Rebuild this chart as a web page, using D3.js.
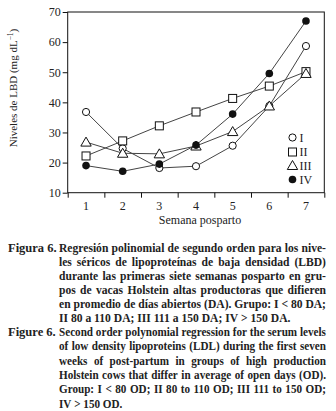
<!DOCTYPE html>
<html>
<head>
<meta charset="utf-8">
<script src="https://cdn.jsdelivr.net/npm/d3@7"></script>
<style>
  body { margin: 0; background: #fff; }
  svg { display: block; }
  text { font-family: "Liberation Serif", "DejaVu Serif", serif; fill: #222; }
</style>
</head>
<body>
<script>
// Weeks post-partum and the four groups (LDL, mg dL-1)
const weeks = [1, 2, 3, 4, 5, 6, 7];
const groupI   = [36.8, 24.7, 18.2, 18.8, 25.6, 38.8, 58.7];
const groupII  = [22.2, 27.2, 32.2, 36.8, 41.3, 45.4, 50.2];
const groupIII = [26.8, 23.1, 22.9, 25.5, 30.3, 38.8, 49.6];
const groupIV  = [19.0, 17.1, 19.5, 25.8, 36.1, 49.6, 67.0];
const groupNames = ["I", "II", "III", "IV"];
const yTicks = [10, 20, 30, 40, 50, 60, 70];

const captionEs = [
  "Regresión polinomial de segundo orden para los nive-",
  "les séricos de lipoproteínas de baja densidad (LBD)",
  "durante las primeras siete semanas posparto en gru-",
  "pos de vacas Holstein altas productoras que difieren",
  "en promedio de días abiertos (DA). Grupo: I < 80 DA;",
  "II 80 a 110 DA; III 111 a 150 DA; IV > 150 DA."
];
const captionEn = [
  "Second order polynomial regression for the serum levels",
  "of low density lipoproteins (LDL) during the first seven",
  "weeks of post-partum in groups of high production",
  "Holstein cows that differ in average of open days (OD).",
  "Group: I < 80 OD; II 80 to 110 OD; III 111 to 150 OD;",
  "IV > 150 OD."
];

const width = 336, height = 411;
const plotLeft = 67.7, plotRight = 324.3, plotTop = 12, plotBottom = 192.7;

const svg = d3.select("body").append("svg")
    .attr("width", width)
    .attr("height", height);

const x = d3.scaleLinear().domain([0.5, 7.5]).range([plotLeft, plotRight]);
const y = d3.scaleLinear().domain([10, 70]).range([plotBottom, plotTop]);

// frame
svg.append("rect")
    .attr("x", plotLeft).attr("y", plotTop)
    .attr("width", plotRight - plotLeft).attr("height", plotBottom - plotTop)
    .attr("fill", "none").attr("stroke", "#111").attr("stroke-width", 1);

// y axis
const yAxis = svg.append("g")
    .attr("transform", `translate(${plotLeft},0)`)
    .call(d3.axisLeft(y).tickValues(yTicks).tickSize(5).tickPadding(2));
yAxis.select(".domain").remove();
yAxis.selectAll("line").attr("stroke", "#111");
yAxis.selectAll("text").attr("font-size", 12).attr("font-family", "Liberation Serif").attr("fill", "#222");

// x axis: tick marks between weeks, labels on the weeks
const xAxis = svg.append("g")
    .attr("transform", `translate(0,${plotBottom})`)
    .call(d3.axisBottom(x).tickValues(d3.range(0.5, 8, 1)).tickSize(5).tickFormat(""));
xAxis.select(".domain").remove();
xAxis.selectAll("line").attr("stroke", "#111");

svg.append("g").selectAll("text")
    .data(weeks)
    .join("text")
    .attr("x", d => x(d))
    .attr("y", 210)
    .attr("text-anchor", "middle")
    .attr("font-size", 12)
    .text(d => d);

// axis titles
svg.append("text")
    .attr("x", 200).attr("y", 223.5)
    .attr("text-anchor", "middle")
    .attr("font-size", 12)
    .text("Semana posparto");

const yTitle = svg.append("text")
    .attr("transform", "translate(17,88) rotate(-90)")
    .attr("text-anchor", "middle")
    .attr("font-size", 11);
yTitle.append("tspan").text("Niveles de LBD (mg dL");
yTitle.append("tspan").attr("font-size", 7.5).attr("dy", -4).text("−1");
yTitle.append("tspan").attr("dy", 4).text(")");

// series
const series = [groupI, groupII, groupIII, groupIV];
const line = d3.line().x((d, i) => x(weeks[i])).y(d => y(d));

svg.append("g").selectAll("path")
    .data(series)
    .join("path")
    .attr("d", line)
    .attr("fill", "none")
    .attr("stroke", "#444")
    .attr("stroke-width", 1);

function marker(g, k) {
  if (k === 0) {
    g.append("circle").attr("r", 3.6).attr("fill", "#fff").attr("stroke", "#111").attr("stroke-width", 1);
  } else if (k === 1) {
    g.append("rect").attr("x", -4).attr("y", -4).attr("width", 8).attr("height", 8)
      .attr("fill", "#fff").attr("stroke", "#111").attr("stroke-width", 1);
  } else if (k === 2) {
    g.append("path").attr("d", "M0,-5 L5.2,4 L-5.2,4 Z")
      .attr("fill", "#fff").attr("stroke", "#111").attr("stroke-width", 1);
  } else {
    g.append("circle").attr("r", 3.8).attr("fill", "#111");
  }
}

series.forEach((vals, k) => {
  svg.append("g").selectAll("g")
    .data(vals)
    .join("g")
    .attr("transform", (d, i) => `translate(${x(weeks[i])},${y(d)})`)
    .each(function() { marker(d3.select(this), k); });
});

// legend
const legendY = [137.5, 152, 165.5, 179.5];
groupNames.forEach((name, k) => {
  const g = svg.append("g").attr("transform", `translate(292.5,${legendY[k]})`);
  marker(g, k);
  g.append("text").attr("x", 7).attr("y", 4.2).attr("font-size", 12).text(name);
});

// caption, justified
const capX = 59, capRight = 326, capFont = 12.5;
function caption(label, lines, y0, step) {
  svg.append("text")
    .attr("x", 8).attr("y", y0)
    .attr("font-size", capFont).attr("font-weight", "bold")
    .attr("fill", "#1a1a1a")
    .text(label);

  // measure words at natural size
  const probe = svg.append("text").attr("font-size", capFont).attr("font-weight", "bold");
  const measure = s => { probe.text(s); return probe.node().getComputedTextLength(); };
  const spaceW = measure("a a") - measure("aa");
  const info = lines.map(s => {
    const words = s.split(" ");
    const ws = words.map(measure);
    return { words, ws, natural: d3.sum(ws) + spaceW * (words.length - 1) };
  });
  probe.remove();

  const W = capRight - capX;
  const k = Math.min(1, d3.min(info.slice(0, -1), d => W / d.natural));

  info.forEach((ln, i) => {
    const g = svg.append("g")
      .attr("transform", `translate(${capX},${y0 + i * step}) scale(${k},1)`);
    const last = i === info.length - 1;
    const gap = last ? spaceW
      : (W / k - d3.sum(ln.ws)) / (ln.words.length - 1);
    let cx = 0;
    ln.words.forEach((w, j) => {
      g.append("text")
        .attr("x", cx).attr("y", 0)
        .attr("font-size", capFont).attr("font-weight", "bold")
        .attr("fill", "#1a1a1a")
        .text(w);
      cx += ln.ws[j] + gap;
    });
  });
}

caption("Figura 6.", captionEs, 251.5, 14.1);
caption("Figure 6.", captionEn, 336, 14.3);
</script>
</body>
</html>
